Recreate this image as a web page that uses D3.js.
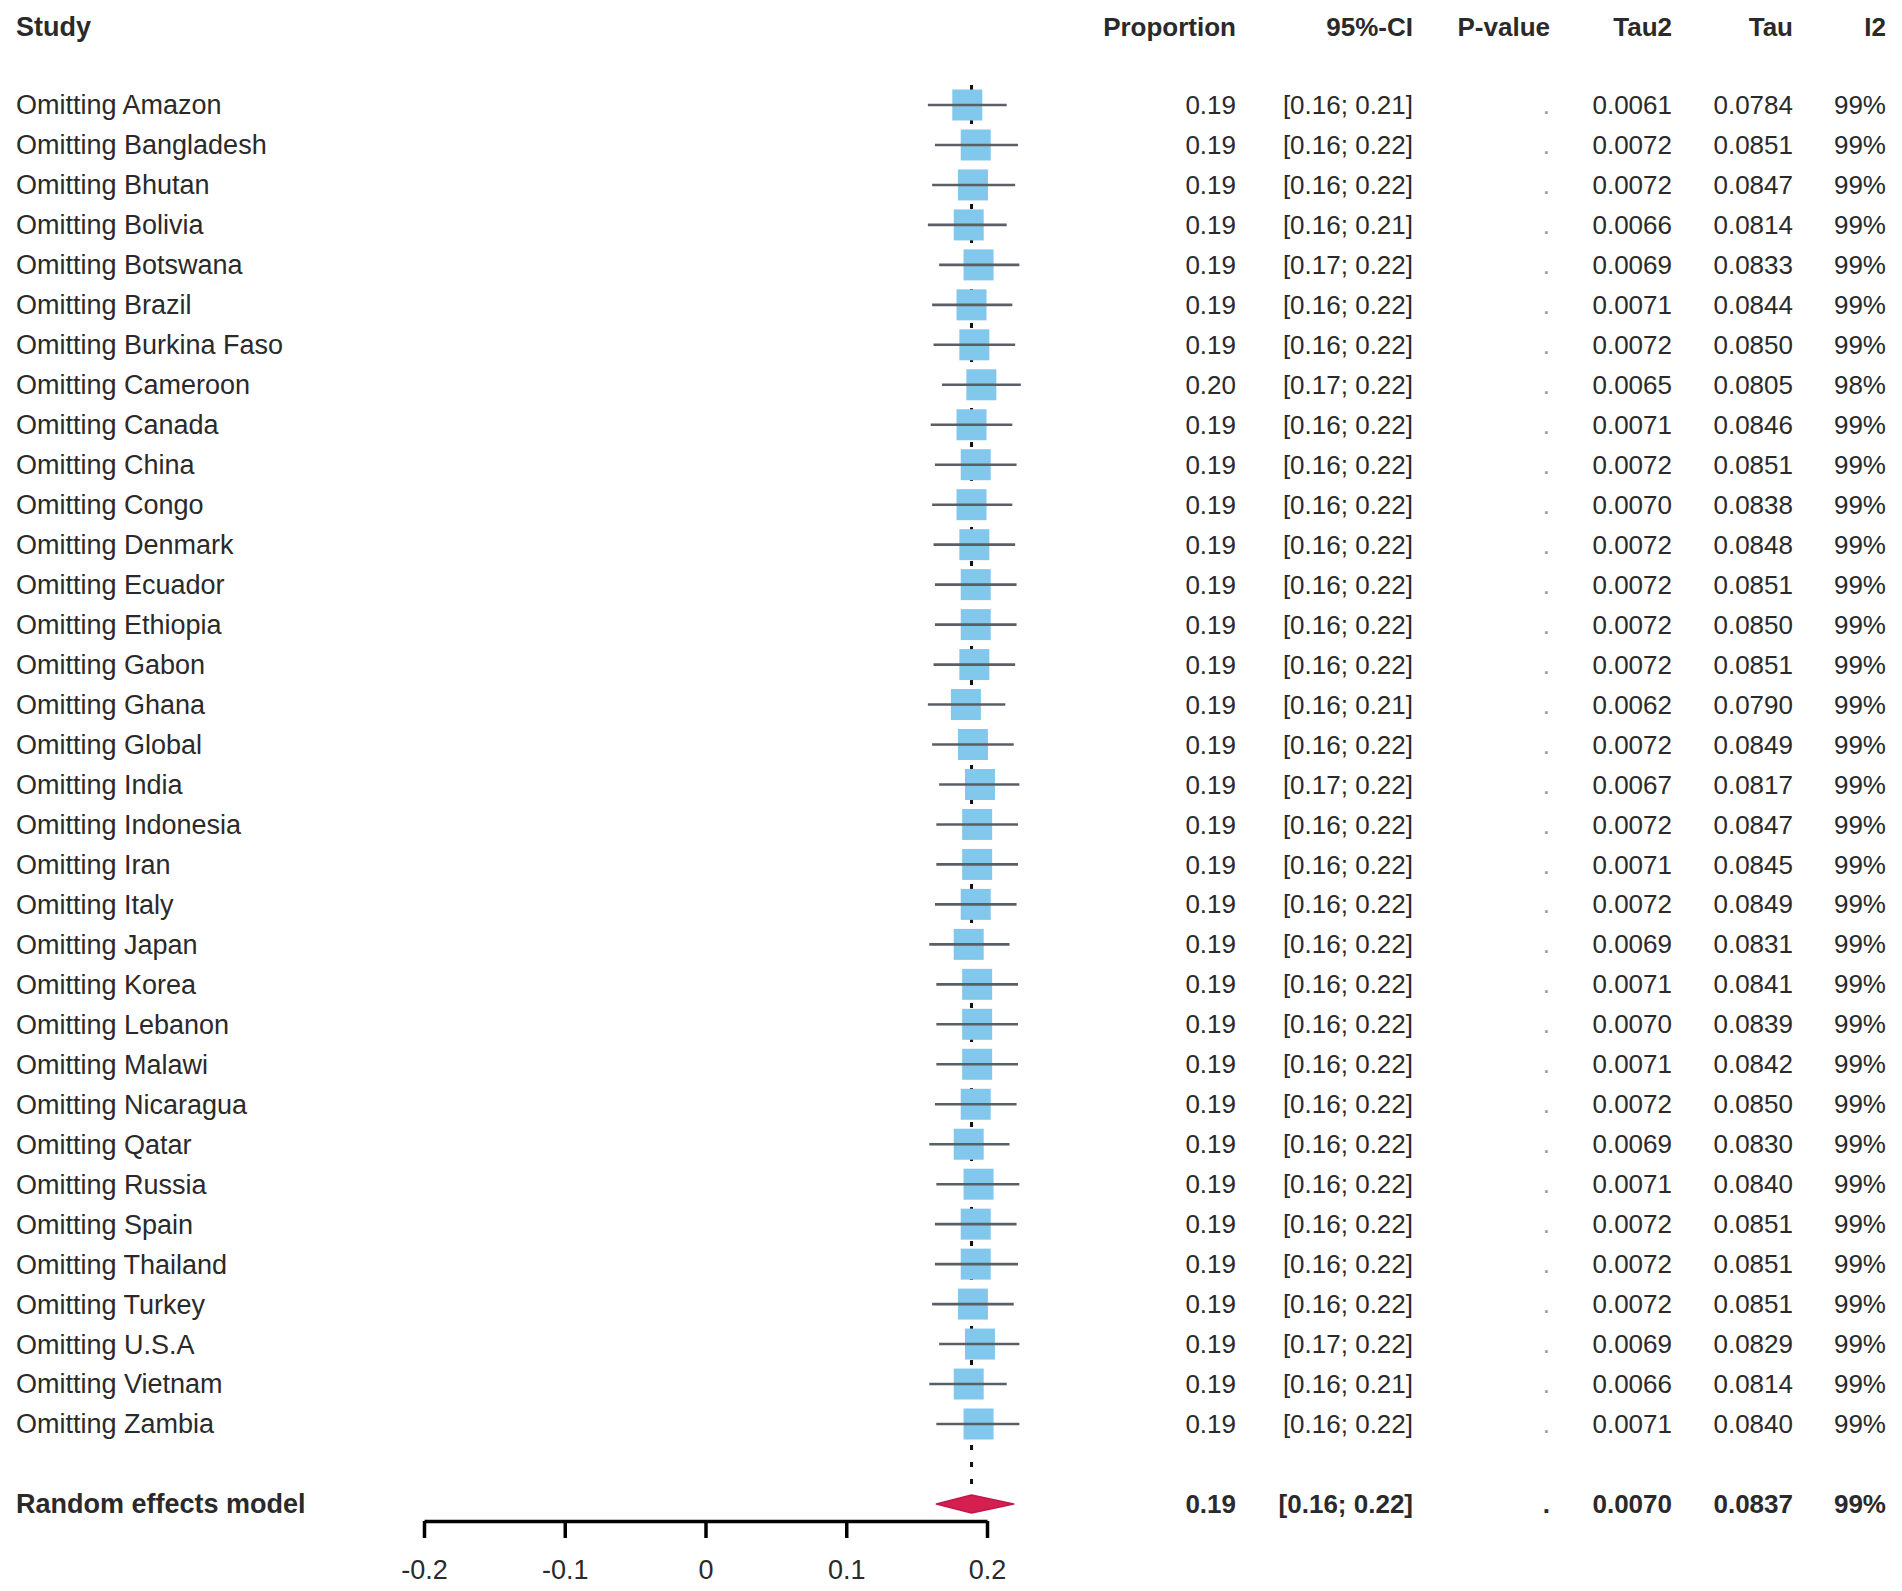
<!DOCTYPE html>
<html>
<head>
<meta charset="utf-8">
<script src="https://cdn.jsdelivr.net/npm/d3@7"></script>
<style>
  html, body { margin: 0; padding: 0; background: #fff; }
  svg { display: block; }
  text { font-family: "Liberation Sans", Arial, sans-serif; }
</style>
</head>
<body>
<svg id="chart" width="1902" height="1591"></svg>
<script>
// ---------------- DATA ----------------
const studies = ["Omitting Amazon","Omitting Bangladesh","Omitting Bhutan","Omitting Bolivia","Omitting Botswana",
  "Omitting Brazil","Omitting Burkina Faso","Omitting Cameroon","Omitting Canada","Omitting China","Omitting Congo",
  "Omitting Denmark","Omitting Ecuador","Omitting Ethiopia","Omitting Gabon","Omitting Ghana","Omitting Global",
  "Omitting India","Omitting Indonesia","Omitting Iran","Omitting Italy","Omitting Japan","Omitting Korea",
  "Omitting Lebanon","Omitting Malawi","Omitting Nicaragua","Omitting Qatar","Omitting Russia","Omitting Spain",
  "Omitting Thailand","Omitting Turkey","Omitting U.S.A","Omitting Vietnam","Omitting Zambia"];
const estimate = [0.186,0.192,0.190,0.187,0.194,0.189,0.191,0.196,0.189,0.192,0.189,0.191,0.192,0.192,0.191,0.185,0.190,
  0.195,0.193,0.193,0.192,0.187,0.193,0.193,0.193,0.192,0.187,0.194,0.192,0.192,0.190,0.195,0.187,0.194];
const lower = [0.158,0.163,0.161,0.158,0.166,0.161,0.162,0.168,0.160,0.163,0.161,0.162,0.163,0.163,0.162,0.158,0.161,
  0.166,0.164,0.164,0.163,0.159,0.164,0.164,0.164,0.163,0.159,0.164,0.163,0.163,0.161,0.166,0.159,0.164];
const upper = [0.214,0.222,0.220,0.214,0.223,0.218,0.220,0.224,0.218,0.221,0.218,0.220,0.221,0.221,0.220,0.213,0.219,
  0.223,0.222,0.222,0.221,0.216,0.222,0.222,0.222,0.221,0.216,0.223,0.221,0.222,0.219,0.223,0.214,0.223];
const propLabels = ["0.19","0.19","0.19","0.19","0.19","0.19","0.19","0.20","0.19","0.19","0.19","0.19","0.19","0.19",
  "0.19","0.19","0.19","0.19","0.19","0.19","0.19","0.19","0.19","0.19","0.19","0.19","0.19","0.19","0.19","0.19",
  "0.19","0.19","0.19","0.19"];
const ciLabels = ["[0.16; 0.21]","[0.16; 0.22]","[0.16; 0.22]","[0.16; 0.21]","[0.17; 0.22]","[0.16; 0.22]",
  "[0.16; 0.22]","[0.17; 0.22]","[0.16; 0.22]","[0.16; 0.22]","[0.16; 0.22]","[0.16; 0.22]","[0.16; 0.22]",
  "[0.16; 0.22]","[0.16; 0.22]","[0.16; 0.21]","[0.16; 0.22]","[0.17; 0.22]","[0.16; 0.22]","[0.16; 0.22]",
  "[0.16; 0.22]","[0.16; 0.22]","[0.16; 0.22]","[0.16; 0.22]","[0.16; 0.22]","[0.16; 0.22]","[0.16; 0.22]",
  "[0.16; 0.22]","[0.16; 0.22]","[0.16; 0.22]","[0.16; 0.22]","[0.17; 0.22]","[0.16; 0.21]","[0.16; 0.22]"];
const pLabels = studies.map(() => ".");
const tau2Labels = ["0.0061","0.0072","0.0072","0.0066","0.0069","0.0071","0.0072","0.0065","0.0071","0.0072","0.0070",
  "0.0072","0.0072","0.0072","0.0072","0.0062","0.0072","0.0067","0.0072","0.0071","0.0072","0.0069","0.0071","0.0070",
  "0.0071","0.0072","0.0069","0.0071","0.0072","0.0072","0.0072","0.0069","0.0066","0.0071"];
const tauLabels = ["0.0784","0.0851","0.0847","0.0814","0.0833","0.0844","0.0850","0.0805","0.0846","0.0851","0.0838",
  "0.0848","0.0851","0.0850","0.0851","0.0790","0.0849","0.0817","0.0847","0.0845","0.0849","0.0831","0.0841","0.0839",
  "0.0842","0.0850","0.0830","0.0840","0.0851","0.0851","0.0851","0.0829","0.0814","0.0840"];
const i2Labels = ["99%","99%","99%","99%","99%","99%","99%","98%","99%","99%","99%","99%","99%","99%","99%","99%","99%",
  "99%","99%","99%","99%","99%","99%","99%","99%","99%","99%","99%","99%","99%","99%","99%","99%","99%"];

const pooledLabel = "Random effects model";
const pooled = { est: 0.189, lower: 0.164, upper: 0.219 };
const pooledText = ["0.19","[0.16; 0.22]",".","0.0070","0.0837","99%"];

const headers = ["Proportion","95%-CI","P-value","Tau2","Tau","I2"];
const tickValues = [-0.2,-0.1,0,0.1,0.2];
const tickLabels = ["-0.2","-0.1","0","0.1","0.2"];

// ---------------- LAYOUT ----------------
const svg = d3.select("#chart");
const x = d3.scaleLinear().domain([-0.2, 0.2]).range([424, 987]);
const y = d3.scaleLinear().domain([0, studies.length - 1]).range([105, 1424]);
const pooledRow = studies.length + 1;
const headerRow = -2;
const colRight = [1236, 1413, 1550, 1672, 1793, 1886];
const fontSize = 26;
const labelSize = 27;
const textColor = "#2a2a2a";

const rows = studies.map((s, i) => ({
  study: s, est: estimate[i], lo: lower[i], hi: upper[i],
  cols: [propLabels[i], ciLabels[i], pLabels[i], tau2Labels[i], tauLabels[i], i2Labels[i]], i
}));

// Header
svg.append("text").attr("x", 16).attr("y", 27).attr("dy", "0.35em")
  .attr("font-size", labelSize).attr("font-weight", "bold").attr("fill", textColor).text("Study");
svg.append("g").selectAll("text").data(headers).join("text")
  .attr("x", (d, j) => colRight[j]).attr("y", 27).attr("dy", "0.35em")
  .attr("text-anchor", "end").attr("font-size", fontSize).attr("font-weight", "bold")
  .attr("fill", textColor).text(d => d);

// Dotted reference line at pooled estimate
svg.append("line")
  .attr("x1", x(pooled.est)).attr("x2", x(pooled.est))
  .attr("y1", y(0) - 20).attr("y2", y(pooledRow) - 9)
  .attr("stroke", "#111").attr("stroke-width", 3).attr("stroke-dasharray", "5,12");

// Study squares and CIs
const gStudy = svg.append("g");
const sqW = 30, sqH = 31;
gStudy.selectAll("rect").data(rows).join("rect")
  .attr("x", d => x(d.est) - sqW / 2).attr("y", d => y(d.i) - sqH / 2)
  .attr("width", sqW).attr("height", sqH).attr("fill", "#82c8ec");
gStudy.selectAll("line").data(rows).join("line")
  .attr("x1", d => x(d.lo)).attr("x2", d => x(d.hi))
  .attr("y1", d => y(d.i)).attr("y2", d => y(d.i))
  .attr("stroke", "#5a5f66").attr("stroke-width", 2.6);

// Study labels
svg.append("g").selectAll("text").data(rows).join("text")
  .attr("x", 16).attr("y", d => y(d.i)).attr("dy", "0.35em")
  .attr("font-size", labelSize).attr("fill", textColor).text(d => d.study);

// Table columns
const gCols = svg.append("g");
rows.forEach(r => {
  gCols.selectAll(null).data(r.cols).join("text")
    .attr("x", (d, j) => colRight[j]).attr("y", y(r.i)).attr("dy", "0.35em")
    .attr("text-anchor", "end").attr("font-size", fontSize)
    .attr("fill", (d, j) => j === 2 ? "#999" : textColor).text(d => d);
});

// Pooled row
const yp = y(pooledRow);
svg.append("text").attr("x", 16).attr("y", yp).attr("dy", "0.35em")
  .attr("font-size", labelSize).attr("font-weight", "bold").attr("fill", textColor).text(pooledLabel);
svg.append("g").selectAll("text").data(pooledText).join("text")
  .attr("x", (d, j) => colRight[j]).attr("y", yp).attr("dy", "0.35em")
  .attr("text-anchor", "end").attr("font-size", fontSize).attr("font-weight", "bold")
  .attr("fill", textColor).text(d => d);
const dh = 9;
svg.append("path")
  .attr("d", `M${x(pooled.lower)},${yp} L${x(pooled.est)},${yp - dh} L${x(pooled.upper)},${yp} L${x(pooled.est)},${yp + dh} Z`)
  .attr("fill", "#d41f4f").attr("stroke", "#c0184a").attr("stroke-width", 1.5).attr("stroke-linejoin", "round");

// X axis
const axis = d3.axisBottom(x).tickValues(tickValues).tickSize(17).tickSizeOuter(0).tickPadding(22)
  .tickFormat((d, i) => tickLabels[i]);
const gAxis = svg.append("g").attr("transform", `translate(0,${1521})`).call(axis);
gAxis.select(".domain").attr("stroke", "#000").attr("stroke-width", 3.5);
gAxis.selectAll(".tick line").attr("stroke", "#000").attr("stroke-width", 3.5);
gAxis.selectAll(".tick text").attr("font-size", 27).attr("fill", textColor)
  .attr("font-family", "'Liberation Sans', Arial, sans-serif");
</script>
</body>
</html>
